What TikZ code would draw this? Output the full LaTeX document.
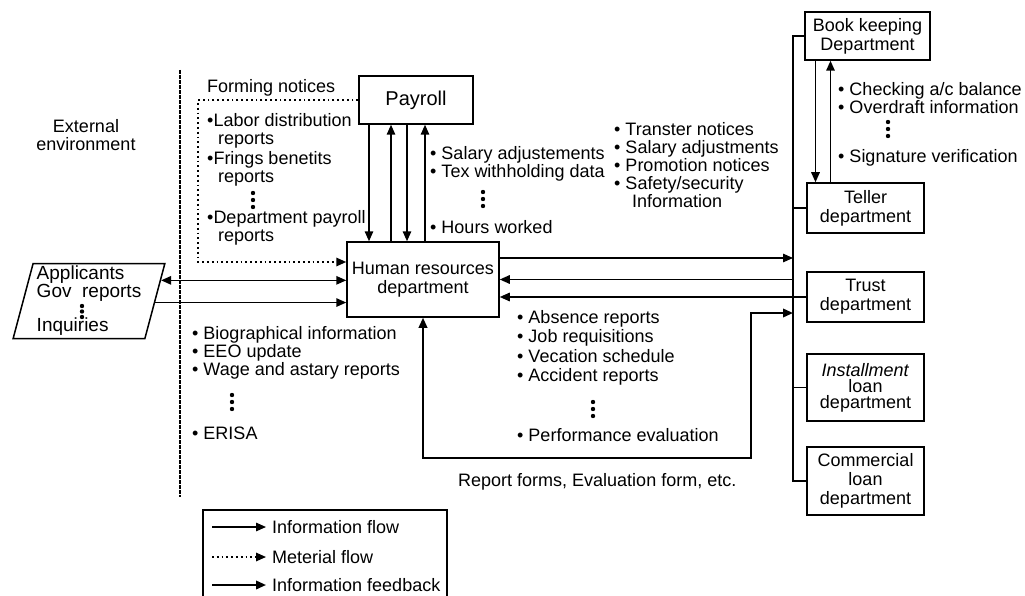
\documentclass[tikz,border=0pt]{standalone}
\usepackage{fontspec}
\setmainfont{Liberation Sans}
\usepackage{tikz}
\usetikzlibrary{arrows.meta,shapes.geometric}

% three stacked dots for omitted items
\newcommand{\tripledot}[2][7]{\fill (#2) circle (2.2) ++(0,#1) circle (2.2) ++(0,#1) circle (2.2);}

\begin{document}
\begin{tikzpicture}[x=1pt, y=-1pt,
  >={Triangle[length=10pt,width=8.5pt]},
  every node/.style={font=\fontsize{18}{18}\selectfont, inner sep=0pt},
  box/.style={draw, line width=1.5pt, align=center, font=\fontsize{18}{19}\selectfont},
  info/.style={line width=1.5pt},
  material/.style={line width=1.6pt, dash pattern=on 1.8pt off 3pt},
  feedback/.style={line width=2pt},
  list/.style={align=left, anchor=north west},
  border/.style={line width=2.8pt, dash pattern=on 4pt off 1pt}]
\useasboundingbox (0,0) rectangle (1025,596);

% Boundary of the external environment
\draw[border] (180,70) -- (180,497);
\node[align=center] (extenv) at (86,135) {External\\environment};

% Payroll and human resources
\node[box, minimum width=114, minimum height=48, font=\fontsize{20}{20}\selectfont] (payroll) at (416,100) {Payroll};
\node[box, minimum width=152, minimum height=75] (hr) at (423,279.5) {Human resources\\department};

% Bank departments
\node[box, minimum width=125, minimum height=48] (book) at (867.5,36) {Book keeping\\Department};
\node[box, minimum width=117, minimum height=50] (teller) at (865.5,208) {Teller\\department};
\node[box, minimum width=117, minimum height=50] (trust) at (865.5,297) {Trust\\department};
\node[box, minimum width=117, minimum height=67, font=\fontsize{18}{16}\selectfont] (install) at (865.5,387.5) {\textit{Installment}\\loan\\department};
\node[box, minimum width=117, minimum height=68] (comm) at (865.5,481) {Commercial\\loan\\department};

% External parties
\node[trapezium, trapezium left angle=75, trapezium right angle=105, trapezium stretches=true,
  draw, line width=1.5pt, minimum width=152, minimum height=75, align=left,
  font=\fontsize{19}{18}\selectfont] (ext) at (89,301) {Applicants\\Gov\ \ reports\\[16pt]Inquiries};
\tripledot[5.5]{82,306}

% Payroll <-> HR
\draw[info,->] ([xshift=-47pt]payroll.south) -- ([xshift=-47pt]payroll.south |- hr.north);
\draw[info,<-] ([xshift=-25pt]payroll.south) -- ([xshift=-25pt]payroll.south |- hr.north);
\draw[info,->] ([xshift=-9pt]payroll.south) -- ([xshift=-9pt]payroll.south |- hr.north);
\draw[info,<-] ([xshift=9pt]payroll.south) -- ([xshift=9pt]payroll.south |- hr.north);

% Material flow
\coordinate (matl) at (198,262);
\draw[material,->] (payroll.west) -| (matl) -- (matl -| hr.west);

% External environment <-> HR
\path (ext.bottom right corner) -- (ext.top right corner) coordinate[pos=0.77] (extin) coordinate[pos=0.48] (extout);
\draw[info,<->] (extin) -- (extin -| hr.west);
\draw[info,->] (extout) -- (extout -| hr.west);

% HR <-> bank departments
\coordinate (bus) at (793,0);
\draw[info] (book.west) -- (book.west -| bus) -- (comm.west -| bus) -- (comm.west);
\draw[info] (teller.west) -- (teller.west -| bus);
\draw[info] (install.west) -- (install.west -| bus);
\draw[info,->] ([yshift=21.5pt]hr.east) -- ([yshift=21.5pt]hr.east -| bus);
\draw[info,<-] (hr.east) -- (hr.east -| bus);
\draw[info,<-] (trust.west -| hr.east) -- (trust.west);

% Book keeping <-> teller
\draw[info,->] ([xshift=-52pt]book.south) -- ([xshift=-52pt]book.south |- teller.north);
\draw[info,<-] ([xshift=-37pt]book.south) -- ([xshift=-37pt]book.south |- teller.north);

% Information feedback loop
\coordinate (fbcorner) at (751,458);
\coordinate (fbtop) at (751,313);
\draw[feedback,<->] (hr.south) |- (fbcorner) -- (fbtop) -- (fbtop -| bus);
\node[anchor=west] (fbtext) at (458,482) {Report forms, Evaluation form, etc.};

% Lists of information
\node[anchor=west] (forming) at (207,88) {Forming notices};
\node[list] (formlist) at (207,113) {•Labor distribution\\\hspace*{11pt}reports\\[2pt]•Frings benetits\\\hspace*{11pt}reports\\[23pt]•Department payroll\\\hspace*{11pt}reports};
\tripledot{253,193}

\node[list] (paylist) at (430,146) {• Salary adjustements\\• Tex withholding data\\[38pt]• Hours worked};
\tripledot{483,192}

\node[list] (deptlist) at (614,122) {• Transter notices\\• Salary adjustments\\• Promotion notices\\• Safety/security\\\hspace*{18pt}Information};

\node[list] (tellerlist) at (838,82) {• Checking a/c balance\\• Overdraft information\\[31pt]• Signature verification};
\tripledot{888,122}

\node[list] (hrinlist) at (517,310) {• Absence reports\\[1.5pt]• Job requisitions\\[1.5pt]• Vecation schedule\\[1.5pt]• Accident reports\\[42pt]• Performance evaluation};
\tripledot{593,402}

\node[list] (hroutlist) at (192,326) {• Biographical information\\• EEO update\\• Wage and astary reports\\[46pt]• ERISA};
\tripledot{232,395}

% Legend
\draw[info] (203,596) |- (447,510) -- (447,596);
\node[anchor=west] (lginfo) at (272,527) {Information flow};
\node[anchor=west] (lgmat) at (272,557) {Meterial flow};
\node[anchor=west] (lgfb) at (272,585) {Information feedback};
\draw[info,->] ([xshift=-60pt]lginfo.west) -- ([xshift=-6pt]lginfo.west);
\draw[material,->] ([xshift=-60pt]lgmat.west) -- ([xshift=-6pt]lgmat.west);
\draw[feedback,->] ([xshift=-60pt]lgfb.west) -- ([xshift=-6pt]lgfb.west);
\end{tikzpicture}
\end{document}
